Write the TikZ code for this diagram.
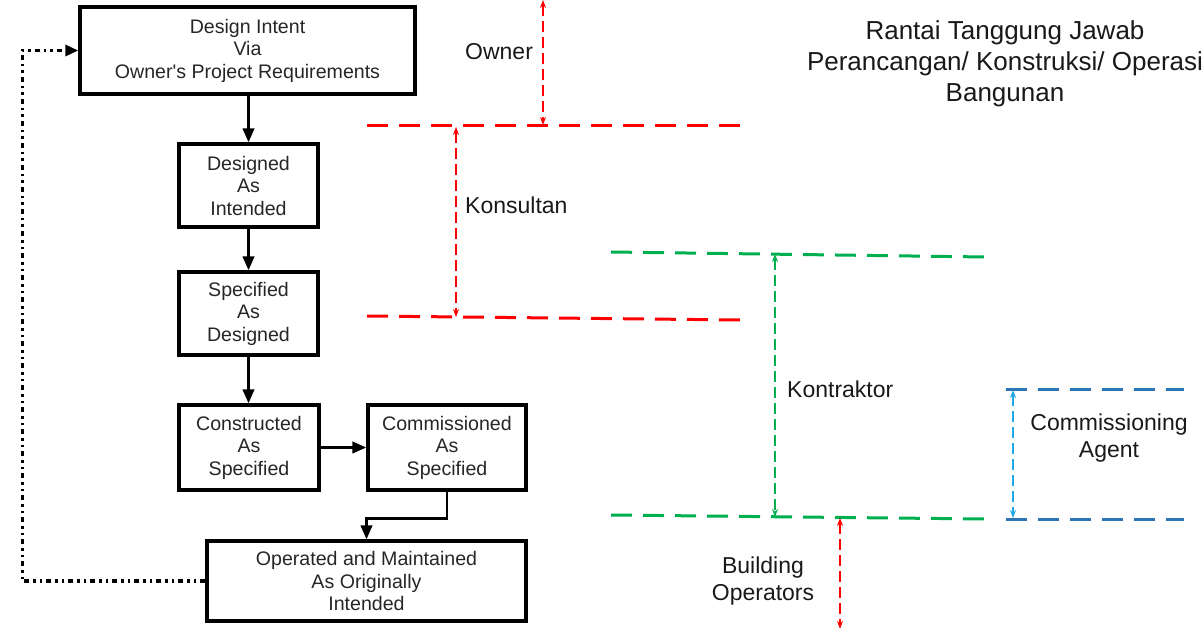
\documentclass[tikz,border=0pt]{standalone}
\usepackage{fontspec}
\setmainfont{Liberation Sans}
\usetikzlibrary{arrows.meta,calc}
\definecolor{cred}{HTML}{FF0000}
\definecolor{cgreen}{HTML}{00B050}
\definecolor{cblue}{HTML}{2E75B6}
\definecolor{clblue}{HTML}{1FA9E6}
\tikzset{
  box/.style={draw=black, line width=3.4pt, align=center, inner sep=0pt, text=black!85,
    font=\fontsize{19.6}{22.5}\selectfont},
  flow/.style={line width=2.8pt, -{Triangle[length=14pt,width=11.5pt]}},
  loopback/.style={line width=3.4pt, dash pattern=on 5pt off 4pt on 2.5pt off 4pt on 2.5pt off 4pt, -{Triangle[length=13pt,width=11pt]}},
  level/.style={line width=3pt, dash pattern=on 21pt off 11pt},
  span/.style={line width=1.5pt, dash pattern=on 11pt off 5pt, {Stealth[length=8pt,width=6pt]}-{Stealth[length=8pt,width=6pt]}},
  lbl/.style={font=\fontsize{23}{27}\selectfont, text=black!90, align=center, inner sep=0pt},
}
\begin{document}
\begin{tikzpicture}[x=1pt,y=-1pt]
\useasboundingbox (0,0) rectangle (1204,628);
% boxes
\node[box, minimum width=335pt, minimum height=87pt] (b1) at (247.5,50.5) {Design Intent\\Via\\Owner\textquotesingle s Project Requirements};
\node[box, minimum width=139pt, minimum height=83pt] (b2) at (248.5,185.5) {Designed\\As\\Intended};
\node[box, minimum width=139pt, minimum height=83pt] (b3) at (248.5,313.5) {Specified\\As\\Designed};
\node[box, minimum width=140pt, minimum height=85pt] (b4) at (249,447.5) {Constructed\\As\\Specified};
\node[box, minimum width=158pt, minimum height=85pt] (b5) at (447,447.5) {Commissioned\\As\\Specified};
\node[box, minimum width=319pt, minimum height=80pt] (b6) at (366.5,581) {Operated and Maintained\\As Originally\\Intended};
% flow
\draw[flow] (b1.south -| b2.north) -- (b2.north);
\draw[flow] (b2) -- (b3);
\draw[flow] (b3) -- (b3 |- b4.north);
\draw[flow] (b4) -- (b5);
\draw[flow] (b5.south) -- ++(0,27) -| (b6.north);
\draw[loopback] (b6.west) -- ++(-183,0) |- (b1.west);
% level lines
\coordinate (r1a) at (367,126); \coordinate (r1b) at (741,126);
\coordinate (r2a) at (367,316); \coordinate (r2b) at (741,320);
\coordinate (g1a) at (611,252); \coordinate (g1b) at (986,257);
\coordinate (g2a) at (611,515); \coordinate (g2b) at (986,519);
\coordinate (u1a) at (1006,389); \coordinate (u1b) at (1184,389);
\coordinate (u2a) at (1006,519); \coordinate (u2b) at (1184,519);
\draw[level, cred] (r1a) -- (r1b);
\draw[level, cred] (r2a) -- (r2b);
\draw[level, cgreen] (g1a) -- (g1b);
\draw[level, cgreen] (g2a) -- (g2b);
\draw[level, cblue] (u1a) -- (u1b);
\draw[level, cblue] (u2a) -- (u2b);
% spans
\coordinate (ot) at (543,0); \coordinate (ob) at (543,125);
\coordinate (kt) at (456,127); \coordinate (kb) at (456,317);
\coordinate (ct) at (775,254); \coordinate (cb) at (775,517);
\coordinate (at) at (1013,390); \coordinate (ab) at (1013,518);
\coordinate (bt) at (840,518); \coordinate (bb) at (840,629);
\draw[span, cred] (ot) -- (ob);
\draw[span, cred] (kt) -- (kb);
\draw[span, cgreen] (ct) -- (cb);
\draw[span, clblue] (at) -- (ab);
\draw[span, cred] (bt) -- (bb);
% labels
\node[lbl, anchor=west] (lowner) at (465,52) {Owner};
\node[lbl, anchor=west] (lkons) at (465,205) {Konsultan};
\node[lbl, anchor=west] (lkont) at (787,389) {Kontraktor};
\node[lbl] (lagent) at (1109,438) {Commissioning\\Agent};
\node[lbl] (lops) at (763,581) {Building\\Operators};
\node[lbl, font=\fontsize{26}{31}\selectfont] (title) at (1005,64) {Rantai Tanggung Jawab\\Perancangan/ Konstruksi/ Operasi\\Bangunan};
\end{tikzpicture}
\end{document}
